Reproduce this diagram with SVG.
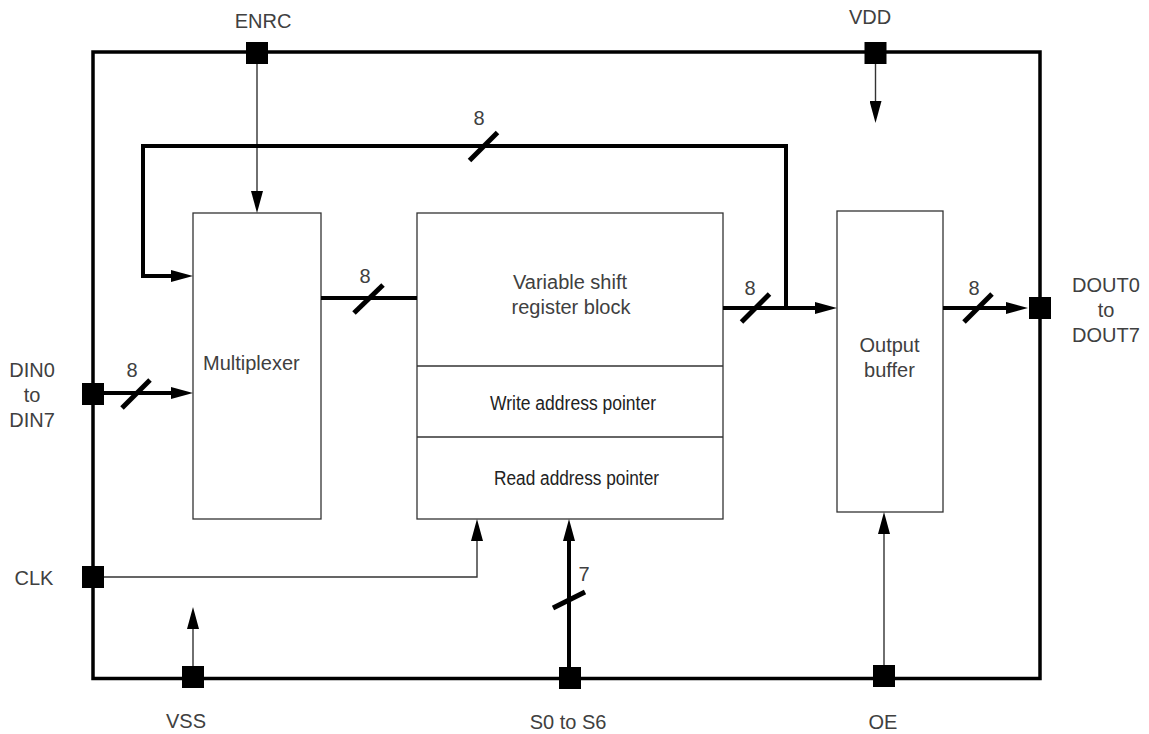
<svg xmlns="http://www.w3.org/2000/svg" width="1149" height="734" viewBox="0 0 1149 734">
  <style>
    text { font-family: "Liberation Sans", Arial, sans-serif; font-size: 20px; fill: #404040; }
    .box { fill: #ffffff; stroke: #333333; stroke-width: 1.3; }
    .frame { fill: none; stroke: #000000; stroke-width: 3.5; }
    .pin { fill: #000000; }
    .bus { fill: none; stroke: #000000; stroke-width: 4; }
    .sig { fill: none; stroke: #333333; stroke-width: 1.4; }
    .slash { stroke: #000000; stroke-width: 5; }
    .narrow { fill: #222222; }
    .mid { text-anchor: middle; }
  </style>
  <defs>
    <marker id="arrow" markerUnits="userSpaceOnUse" markerWidth="22" markerHeight="12" refX="12" refY="6" orient="auto">
      <path d="M0,0 L22,6 L0,12 Z" fill="#000000"/>
    </marker>
  </defs>

  <rect class="frame" x="93" y="52" width="947" height="626.5"/>

  <g id="multiplexer">
    <rect class="box" x="193" y="213" width="128" height="306"/>
    <text x="203" y="370">Multiplexer</text>
  </g>

  <g id="shift-register">
    <rect class="box" x="417" y="213" width="306" height="306"/>
    <line class="box" x1="417" y1="366" x2="723" y2="366"/>
    <line class="box" x1="417" y1="437" x2="723" y2="437"/>
    <text class="mid" x="570" y="289">Variable shift</text>
    <text class="mid" x="571" y="314">register block</text>
    <text class="narrow" x="490" y="410" textLength="166" lengthAdjust="spacingAndGlyphs">Write address pointer</text>
    <text class="narrow" x="494" y="485" textLength="165" lengthAdjust="spacingAndGlyphs">Read address pointer</text>
  </g>

  <g id="output-buffer">
    <rect class="box" x="837" y="211" width="106" height="301"/>
    <text class="mid" x="889.5" y="352">Output</text>
    <text class="mid" x="889.5" y="377">buffer</text>
  </g>

  <g id="pin-enrc">
    <rect class="pin" x="246" y="42" width="22" height="22"/>
    <text class="mid" x="263" y="28">ENRC</text>
  </g>
  <g id="pin-vdd">
    <rect class="pin" x="864.5" y="42" width="22" height="22"/>
    <text class="mid" x="870" y="24">VDD</text>
  </g>
  <g id="pin-din">
    <rect class="pin" x="82" y="383" width="22" height="22"/>
    <text class="mid" x="32" y="377">DIN0</text>
    <text class="mid" x="32" y="402">to</text>
    <text class="mid" x="32" y="427">DIN7</text>
  </g>
  <g id="pin-clk">
    <rect class="pin" x="82" y="566" width="22" height="22"/>
    <text class="mid" x="34" y="585">CLK</text>
  </g>
  <g id="pin-dout">
    <rect class="pin" x="1029" y="297" width="22" height="22"/>
    <text class="mid" x="1106" y="292">DOUT0</text>
    <text class="mid" x="1106" y="317">to</text>
    <text class="mid" x="1106" y="342">DOUT7</text>
  </g>
  <g id="pin-vss">
    <rect class="pin" x="182" y="666" width="22" height="22"/>
    <text class="mid" x="186" y="728">VSS</text>
  </g>
  <g id="pin-s">
    <rect class="pin" x="559" y="667" width="22" height="22"/>
    <text class="mid" x="568" y="729">S0 to S6</text>
  </g>
  <g id="pin-oe">
    <rect class="pin" x="873" y="665" width="22" height="22"/>
    <text class="mid" x="883" y="729">OE</text>
  </g>

  <g id="connectors">
    <!-- thin control signals -->
    <line class="sig" x1="257" y1="64" x2="257" y2="203" marker-end="url(#arrow)"/>
    <line class="sig" x1="875.5" y1="64" x2="875.5" y2="113" marker-end="url(#arrow)"/>
    <line class="sig" x1="193" y1="666" x2="193" y2="617" marker-end="url(#arrow)"/>
    <polyline class="sig" points="104,577 477,577 477,529" marker-end="url(#arrow)"/>
    <line class="sig" x1="884" y1="665" x2="884" y2="522" marker-end="url(#arrow)"/>

    <!-- buses -->
    <line class="bus" x1="104" y1="393" x2="183" y2="393" marker-end="url(#arrow)"/>
    <line class="bus" x1="321" y1="298" x2="417" y2="298"/>
    <line class="bus" x1="723" y1="308" x2="827" y2="308" marker-end="url(#arrow)"/>
    <polyline class="bus" points="786,308 786,146 143,146 143,276 183,276" marker-end="url(#arrow)"/>
    <line class="bus" x1="943" y1="308" x2="1018" y2="308" marker-end="url(#arrow)"/>
    <line class="bus" x1="569" y1="667" x2="569" y2="529" marker-end="url(#arrow)"/>

    <!-- bus width slashes -->
    <line class="slash" x1="122" y1="408" x2="150" y2="380"/>
    <line class="slash" x1="354" y1="313" x2="383" y2="285"/>
    <line class="slash" x1="469.5" y1="160.5" x2="497.5" y2="132.5"/>
    <line class="slash" x1="741.5" y1="322" x2="769.5" y2="294"/>
    <line class="slash" x1="964" y1="322" x2="992" y2="294"/>
    <line class="slash" x1="553" y1="608" x2="585" y2="592"/>

    <text class="mid" x="132" y="377">8</text>
    <text class="mid" x="365" y="283">8</text>
    <text class="mid" x="479" y="125">8</text>
    <text class="mid" x="750" y="295">8</text>
    <text class="mid" x="974" y="295">8</text>
    <text class="mid" x="584" y="581">7</text>
  </g>
</svg>
